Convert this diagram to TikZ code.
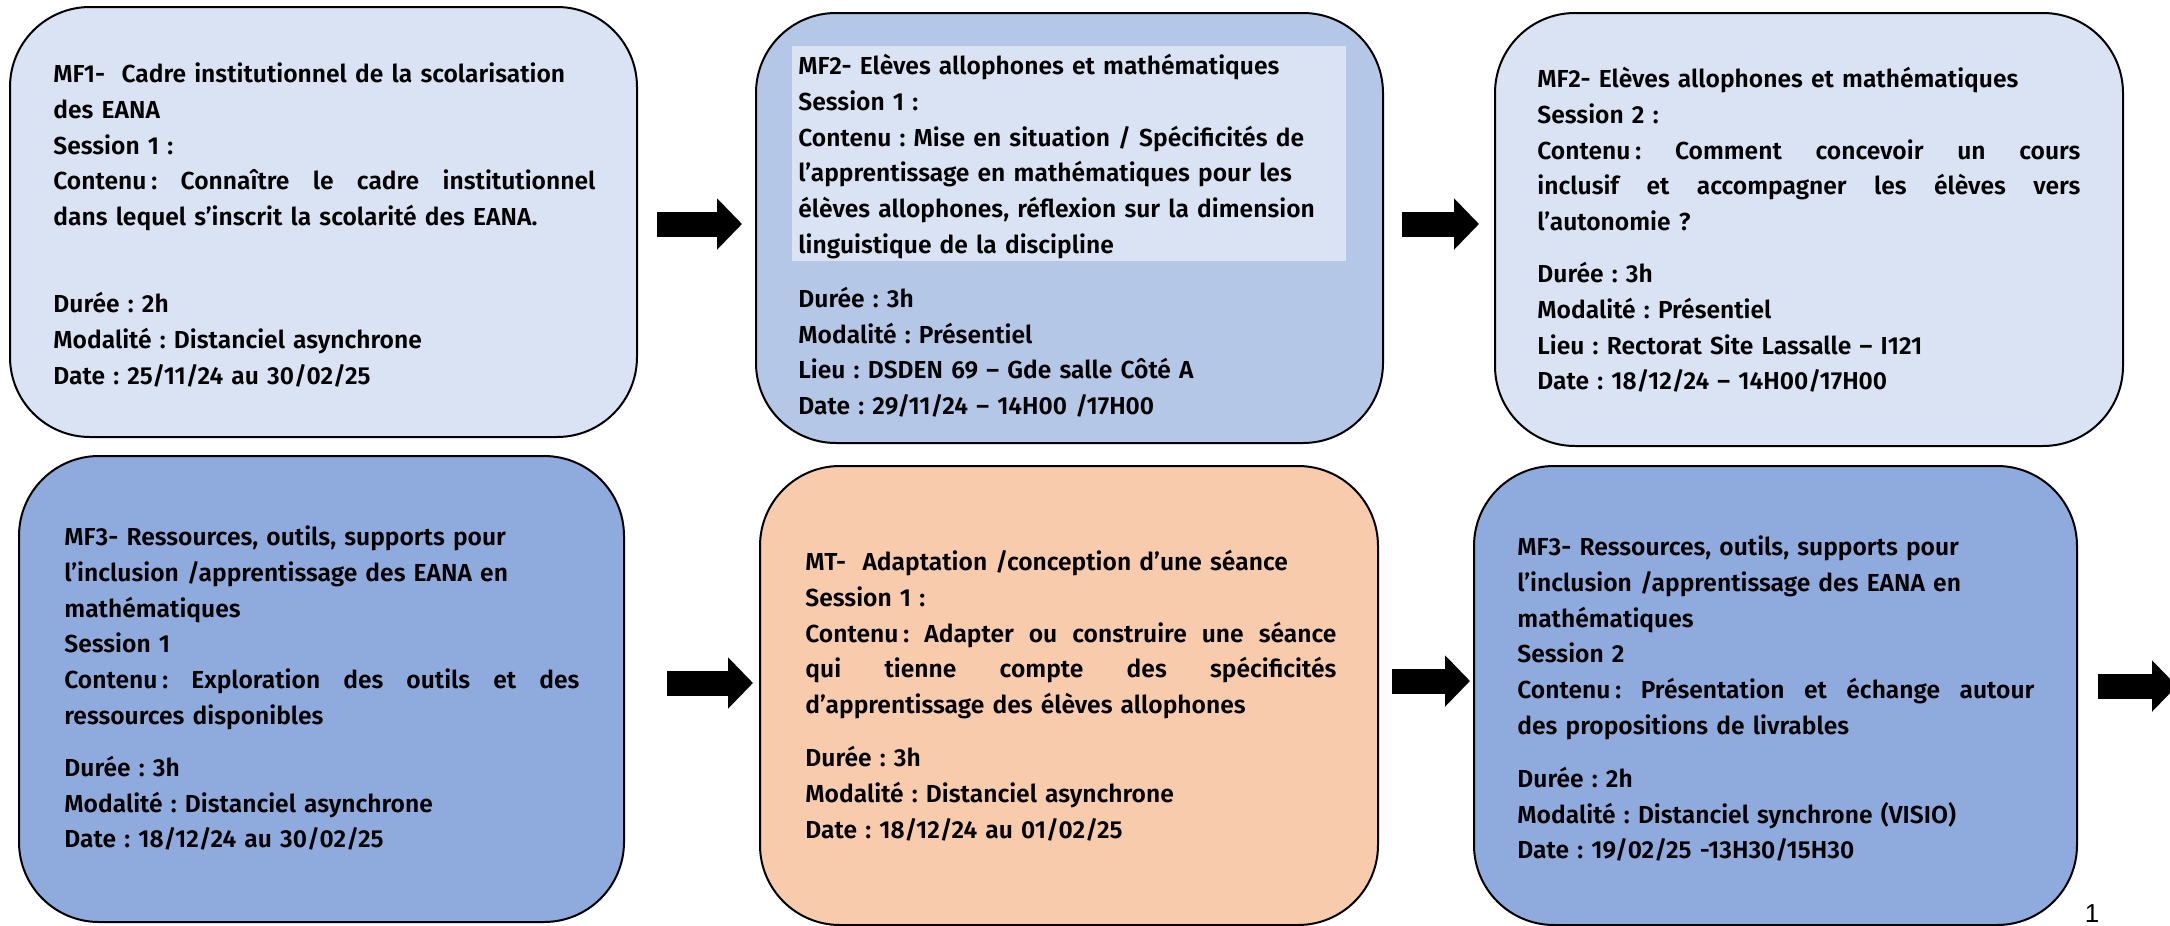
\documentclass[tikz,border=0pt]{standalone}
\usepackage{fontspec}
\setmainfont{Fira Sans}[UprightFont={* SemiBold}]
\newfontfamily\slidenumfont{Liberation Sans}
\usetikzlibrary{arrows.meta,calc,positioning}
\frenchspacing

\definecolor{paleblue}{HTML}{DAE3F3}
\definecolor{midblue}{HTML}{B4C7E7}
\definecolor{deepblue}{HTML}{8FAADC}
\definecolor{peach}{HTML}{F8CBAD}

% a line stretched to a given width
\newcommand{\spreadline}[2]{\leavevmode\hbox to #1{\spaceskip=0.25em plus 1fil\relax #2}}

\tikzset{
  module/.style={draw=black, line width=1pt, rounded corners=40pt, inner sep=0pt},
  blurb/.style={anchor=north west, inner sep=0pt, align=left,
    font=\fontsize{12.3pt}{17.9pt}\selectfont},
  fatarrow/.style={line width=12.5pt, -{Triangle[length=12.5pt,width=25pt]}},
}

\begin{document}
\begin{tikzpicture}[x=0.5pt, y=-0.5pt]
\useasboundingbox (0,0) rectangle (2170,926);

% first row
\node[module, fill=paleblue, minimum width=313.5pt, minimum height=215pt] (mf1) at (323.5,222) {};
\node[module, fill=midblue, minimum width=313.5pt, minimum height=215pt] (mf2a) at (1069.5,228) {};
\node[module, fill=paleblue, minimum width=314pt, minimum height=216.5pt] (mf2b) at (1809,229.5) {};

% second row
\node[module, fill=deepblue, minimum width=302.5pt, minimum height=233pt] (mf3a) at (321.5,689) {};
\node[module, fill=peach, minimum width=309pt, minimum height=229.5pt] (mt) at (1069,695.5) {};
\node[module, fill=deepblue, minimum width=301.5pt, minimum height=229.5pt] (mf3b) at (1775.5,695.5) {};

\fill[paleblue] ($(mf2a.north west)+(37,34)$) rectangle ($(mf2a.north west)+(591,249)$);

\node[blurb, text width=271pt] (mf1txt) at (53,57) {\strut MF1-~ Cadre institutionnel de la scolarisation\\
  des EANA\\
  Session 1 :\\
  \spreadline{271pt}{Contenu\hspace{2.5pt}: Connaître le cadre institutionnel}\\
  dans lequel s’inscrit la scolarité des EANA.\\[25.5pt]
  Durée : 2h\\
  Modalité : Distanciel asynchrone\\
  Date : 25/11/24 au 30/02/25};

\node[blurb, text width=277pt] (mf2atxt) at (798,49) {\strut MF2- Elèves allophones et mathématiques\\
  Session 1 :\\
  Contenu : Mise en situation / Spécificités de\\
  l’apprentissage en mathématiques pour les\\
  élèves allophones, réflexion sur la dimension\\
  linguistique de la discipline\\[9pt]
  Durée : 3h\\
  Modalité : Présentiel\\
  Lieu : DSDEN 69 – Gde salle Côté A\\
  Date : 29/11/24 – 14H00 /17H00};

\node[blurb, text width=271.5pt] (mf2btxt) at (1537,62) {\strut MF2- Elèves allophones et mathématiques\\
  Session 2 :\\
  \spreadline{271.5pt}{Contenu\hspace{2.5pt}: Comment concevoir un cours}\\
  \spreadline{271.5pt}{inclusif et accompagner les élèves vers}\\
  l’autonomie ?\\[8pt]
  Durée : 3h\\
  Modalité : Présentiel\\
  Lieu : Rectorat Site Lassalle – I121\\
  Date : 18/12/24 – 14H00/17H00};

\node[blurb, text width=257.5pt] (mf3atxt) at (64,520) {\strut MF3- Ressources, outils, supports pour\\
  l’inclusion /apprentissage des EANA en\\
  mathématiques\\
  Session 1\\
  \spreadline{257.5pt}{Contenu\hspace{2.5pt}: Exploration des outils et des}\\
  ressources disponibles\\[8pt]
  Durée : 3h\\
  Modalité : Distanciel asynchrone\\
  Date : 18/12/24 au 30/02/25};

\node[blurb, text width=265.5pt] (mttxt) at (805,545) {\strut MT-~ Adaptation /conception d’une séance\\
  Session 1 :\\
  \spreadline{265.5pt}{Contenu\hspace{2.5pt}: Adapter ou construire une séance}\\
  \spreadline{265.5pt}{qui tienne compte des spécificités}\\
  d’apprentissage des élèves allophones\\[8.5pt]
  Durée : 3h\\
  Modalité : Distanciel asynchrone\\
  Date : 18/12/24 au 01/02/25};

\node[blurb, text width=258.5pt] (mf3btxt) at (1517,530) {\strut MF3- Ressources, outils, supports pour\\
  l’inclusion /apprentissage des EANA en\\
  mathématiques\\
  Session 2\\
  \spreadline{258.5pt}{Contenu\hspace{2.5pt}: Présentation et échange autour}\\
  des propositions de livrables\\[8.5pt]
  Durée : 2h\\
  Modalité : Distanciel synchrone (VISIO)\\
  Date : 19/02/25 -13H30/15H30};

% arrows between the modules
\coordinate (offpage) at (2177,686);
\draw[fatarrow] ($(mf1.east)+(19,2)$) -- ($(mf2a.west)+(-13,-4)$);
\draw[fatarrow] ($(mf2a.east)+(18,-4)$) -- ($(mf2b.west)+(-15,-5.5)$);
\draw[fatarrow] ($(mf3a.east)+(42,-6)$) -- ($(mt.west)+(-6,-12.5)$);
\draw[fatarrow] ($(mt.east)+(13,-14.5)$) -- ($(mf3b.west)+(-3,-14.5)$);
\draw[fatarrow] ($(mf3b.east)+(20,-9.5)$) -- (offpage);

\node[font=\slidenumfont\fontsize{13pt}{13pt}\selectfont, inner sep=0pt] (slidenum) at (2092,914) {1};
\end{tikzpicture}
\end{document}
